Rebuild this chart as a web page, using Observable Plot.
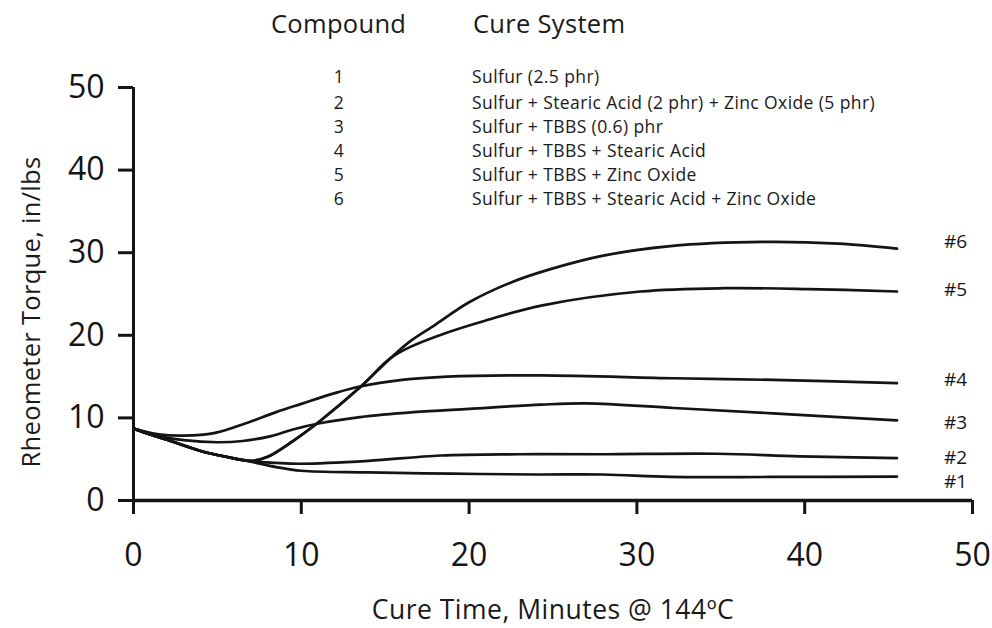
<!DOCTYPE html>
<html>
<head>
<meta charset="utf-8">
<script src="https://cdn.jsdelivr.net/npm/d3@7"></script>
<script src="https://cdn.jsdelivr.net/npm/@observablehq/plot@0.6"></script>
<style>
  body { margin: 0; background: #fff; }
  #wrap { position: relative; width: 992px; height: 628px; font-family: "Open Sans", Lato, sans-serif; color: #1a1a1a; overflow: hidden; }
  #wrap svg { position: absolute; left: 0; top: 0; }
  .abs { position: absolute; white-space: nowrap; }
  .hdr { font-size: 25.5px; line-height: 30px; letter-spacing: 0.3px; }
  .row { font-size: 17.5px; line-height: 24px; letter-spacing: 0.4px; }
  .xt { font-size: 26.5px; line-height: 30px; letter-spacing: 0.5px; }
  .yt { font-size: 25.5px; line-height: 30px; letter-spacing: 0.3px; }
</style>
</head>
<body>
<div id="wrap"></div>
<script>
// ---- Data ----
const compounds = ["1", "2", "3", "4", "5", "6"];
const cureSystems = [
  "Sulfur (2.5 phr)",
  "Sulfur + Stearic Acid (2 phr) + Zinc Oxide (5 phr)",
  "Sulfur + TBBS (0.6) phr",
  "Sulfur + TBBS + Stearic Acid",
  "Sulfur + TBBS + Zinc Oxide",
  "Sulfur + TBBS + Stearic Acid + Zinc Oxide"
];
const curveLabels = ["#1", "#2", "#3", "#4", "#5", "#6"];
const labelTorque = [2.2, 5.2, 9.35, 14.55, 25.5, 31.3];
const labelTime = 48.3;

const xTicks = [0, 10, 20, 30, 40, 50];
const yTicks = [0, 10, 20, 30, 40, 50];

const c1Time   = [0, 1, 2, 4, 5.5, 7, 8.5, 10, 14, 19, 24, 28, 32, 38, 45.5];
const c1Torque = [8.7, 8.0, 7.35, 6.0, 5.3, 4.7, 4.05, 3.6, 3.4, 3.25, 3.15, 3.15, 2.85, 2.85, 2.9];

const c2Time   = [0, 1, 2, 4, 5.5, 7, 8.5, 10, 14, 18.3, 23, 28, 34.8, 39.7, 45.5];
const c2Torque = [8.7, 8.0, 7.35, 6.0, 5.3, 4.75, 4.55, 4.45, 4.8, 5.45, 5.6, 5.6, 5.66, 5.35, 5.14];

const c3Time   = [0, 1.5, 3, 5, 6.5, 8.2, 9.5, 11.1, 13.5, 16.7, 20, 24.3, 27, 32.2, 38.1, 45.5];
const c3Torque = [8.7, 7.8, 7.3, 7.05, 7.2, 7.8, 8.6, 9.35, 10.1, 10.7, 11.1, 11.6, 11.75, 11.2, 10.55, 9.7];

const c4Time   = [0, 1.5, 3, 4.8, 6.5, 8.5, 10, 12, 13.5, 16, 18.7, 24.3, 32.2, 38.1, 45.5];
const c4Torque = [8.7, 8.0, 7.85, 8.15, 9.2, 10.7, 11.7, 13.0, 13.8, 14.6, 15.0, 15.15, 14.8, 14.6, 14.2];

const c5Time   = [0, 1, 2, 4, 5.5, 7, 8, 9.5, 11.1, 13.5, 15.3, 16.5, 18.5, 21, 24.3, 30.2, 35.2, 40.2, 45.5];
const c5Torque = [8.7, 8.0, 7.35, 6.0, 5.3, 4.8, 5.3, 7.2, 9.6, 13.7, 17.2, 18.6, 20.2, 21.8, 23.6, 25.3, 25.7, 25.6, 25.3];

const c6Time   = [0, 1, 2, 4, 5.5, 7, 8, 9.5, 11.1, 13.5, 15.3, 16.5, 18, 20, 22.5, 25, 28, 32, 37.5, 42, 45.5];
const c6Torque = [8.7, 8.0, 7.35, 6.0, 5.3, 4.8, 5.3, 7.2, 9.6, 13.7, 17.2, 19.3, 21.3, 24.0, 26.4, 28.1, 29.65, 30.8, 31.3, 31.1, 30.5];

// ---- Build tables ----
const times = [c1Time, c2Time, c3Time, c4Time, c5Time, c6Time];
const torques = [c1Torque, c2Torque, c3Torque, c4Torque, c5Torque, c6Torque];
const rows = [];
times.forEach((ts, i) => ts.forEach((t, j) => rows.push({compound: compounds[i], time: t, torque: torques[i][j]})));
const labelRows = curveLabels.map((l, i) => ({label: l, time: labelTime, torque: labelTorque[i]}));

const ink = "#141414";
const chart = Plot.plot({
  width: 992,
  height: 628,
  marginLeft: 133,
  marginRight: 20,
  marginTop: 87,
  marginBottom: 128,
  style: {fontFamily: "'Open Sans', Lato, sans-serif", color: ink, background: "transparent", overflow: "visible"},
  x: {domain: [0, 50]},
  y: {domain: [0, 50]},
  marks: [
    Plot.axisX({ticks: xTicks, tickSize: 14, tickPadding: 29, strokeWidth: 3, fontSize: 32, label: null, tickFormat: d => String(d)}),
    Plot.axisY({ticks: yTicks, tickSize: 15, tickPadding: 14, strokeWidth: 3, fontSize: 32, label: null, tickFormat: d => String(d)}),
    Plot.ruleX([0], {y1: 0, y2: 50, stroke: ink, strokeWidth: 3}),
    Plot.ruleY([0], {x1: 0, x2: 50, stroke: ink, strokeWidth: 3.5}),
    Plot.line(rows, {x: "time", y: "torque", z: "compound", stroke: ink, strokeWidth: 2.7, curve: "catmull-rom"}),
    Plot.text(labelRows, {x: "time", y: "torque", text: "label", textAnchor: "start", fontSize: 19, fill: ink})
  ]
});

const wrap = document.getElementById("wrap");
wrap.appendChild(chart);

function addText(cls, text, left, top, extra) {
  const d = document.createElement("div");
  d.className = "abs " + cls;
  d.textContent = text;
  d.style.left = left + "px";
  d.style.top = top + "px";
  if (extra) Object.assign(d.style, extra);
  wrap.appendChild(d);
  return d;
}

// Legend table header
addText("hdr", "Compound", 271, 8);
addText("hdr", "Cure System", 473, 8);
const rowCenters = [76, 101.5, 126, 150, 174, 198];
compounds.forEach((c, i) => {
  addText("row", c, 339, rowCenters[i] - 12, {transform: "translateX(-50%)"});
  addText("row", cureSystems[i], 472, rowCenters[i] - 12);
});

// Axis titles
addText("xt", "Cure Time, Minutes @ 144ºC", 553, 594, {transform: "translateX(-50%)"});
addText("yt", "Rheometer Torque, in/lbs", 30, 312, {transform: "translate(-50%, -50%) rotate(-90deg)"});
</script>
</body>
</html>
